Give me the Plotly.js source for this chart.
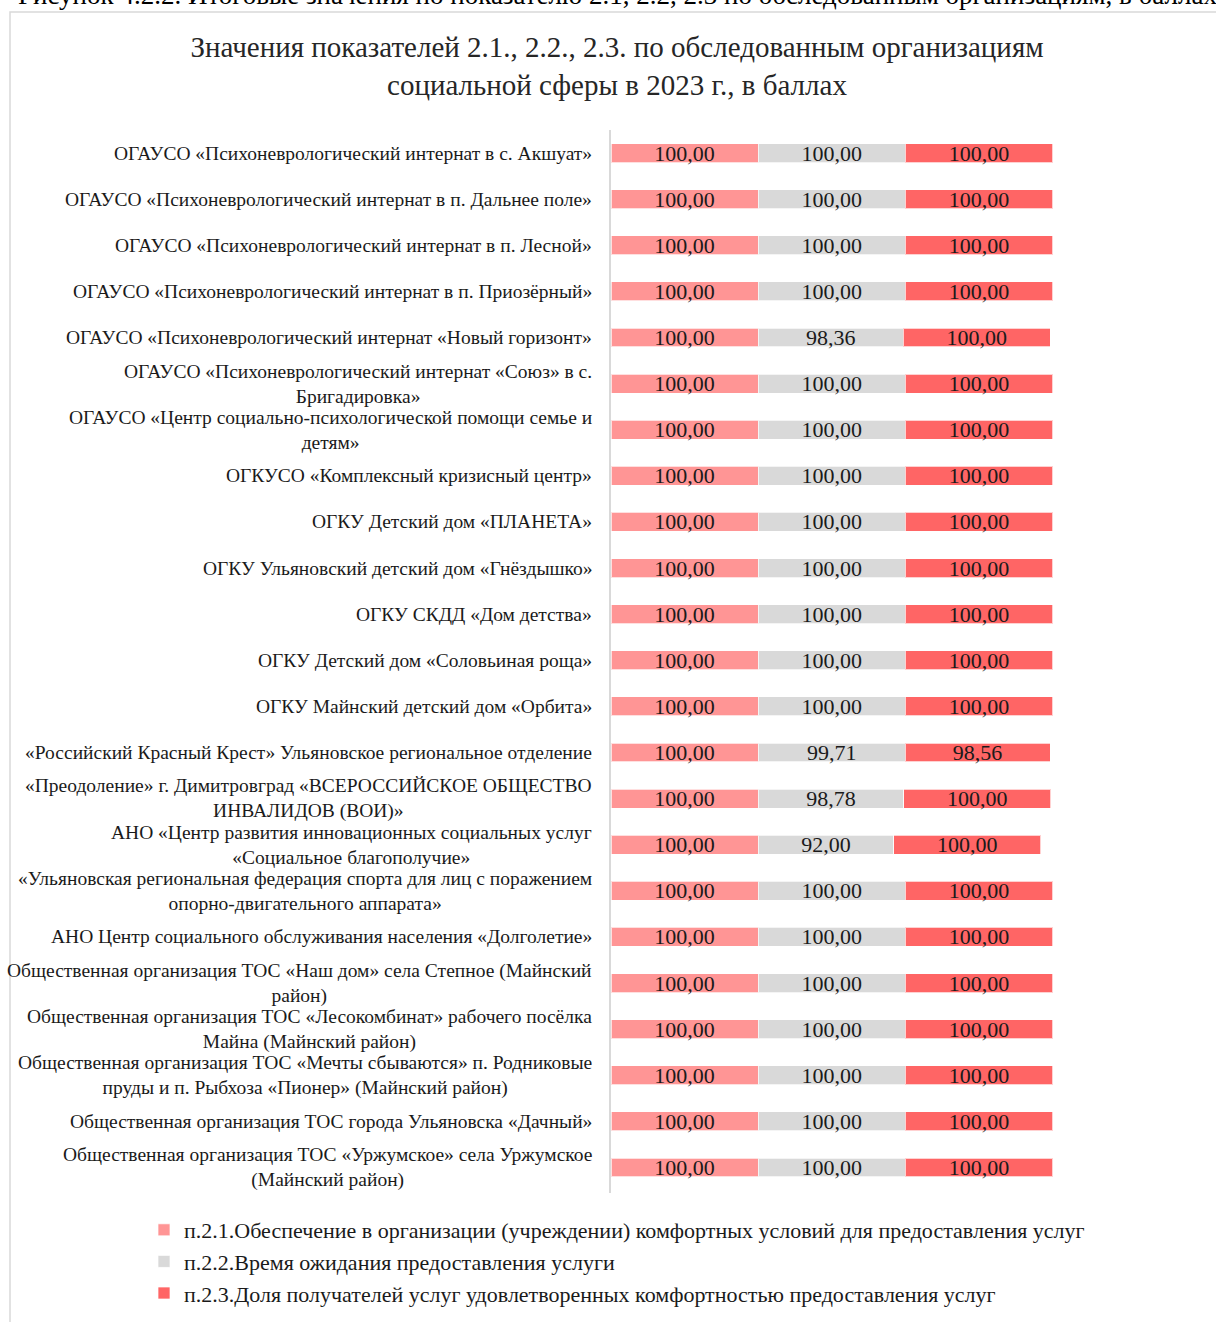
<!DOCTYPE html>
<html>
<head>
<meta charset="utf-8">
<script src="https://cdn.plot.ly/plotly-3.0.1.min.js"></script>
<style>html,body{margin:0;padding:0;background:#fff;}#chart{width:1216px;height:1322px;}</style>
</head>
<body>
<div id="chart"></div>
<script>
const categories = [
  "ОГАУСО «Психоневрологический интернат в с. Акшуат»",
  "ОГАУСО «Психоневрологический интернат в п. Дальнее поле»",
  "ОГАУСО «Психоневрологический интернат в п. Лесной»",
  "ОГАУСО «Психоневрологический интернат в п. Приозёрный»",
  "ОГАУСО «Психоневрологический интернат «Новый горизонт»",
  "ОГАУСО «Психоневрологический интернат «Союз» в с.<br>Бригадировка»",
  "ОГАУСО «Центр социально-психологической помощи семье и<br>детям»",
  "ОГКУСО «Комплексный кризисный центр»",
  "ОГКУ Детский дом «ПЛАНЕТА»",
  "ОГКУ Ульяновский детский дом «Гнёздышко»",
  "ОГКУ СКДД «Дом детства»",
  "ОГКУ Детский дом «Соловьиная роща»",
  "ОГКУ Майнский детский дом «Орбита»",
  "«Российский Красный Крест» Ульяновское региональное отделение",
  "«Преодоление» г. Димитровград «ВСЕРОССИЙСКОЕ ОБЩЕСТВО<br>ИНВАЛИДОВ (ВОИ)»",
  "АНО «Центр развития инновационных социальных услуг<br>«Социальное благополучие»",
  "«Ульяновская региональная федерация спорта для лиц с поражением<br>опорно-двигательного аппарата»",
  "АНО Центр социального обслуживания населения «Долголетие»",
  "Общественная организация ТОС «Наш дом» села Степное (Майнский<br>район)",
  "Общественная организация ТОС «Лесокомбинат» рабочего посёлка<br>Майна (Майнский район)",
  "Общественная организация ТОС «Мечты сбываются» п. Родниковые<br>пруды и п. Рыбхоза «Пионер» (Майнский район)",
  "Общественная организация ТОС города Ульяновска «Дачный»",
  "Общественная организация ТОС «Уржумское» села Уржумское<br>(Майнский район)"
];
const seriesNames = [
  "п.2.1.Обеспечение в организации (учреждении) комфортных условий для предоставления услуг",
  "п.2.2.Время ожидания предоставления услуги",
  "п.2.3.Доля получателей услуг удовлетворенных комфортностью предоставления услуг"
];
const values21 = [100,100,100,100,100,100,100,100,100,100,100,100,100,100,100,100,100,100,100,100,100,100,100];
const values22 = [100,100,100,100,98.36,100,100,100,100,100,100,100,100,99.71,98.78,92.00,100,100,100,100,100,100,100];
const values23 = [100,100,100,100,100,100,100,100,100,100,100,100,100,98.56,100,100,100,100,100,100,100,100,100];
const colors = ["#FF9595", "#D9D9D9", "#FF6565"];
const titleText = "Значения показателей 2.1., 2.2., 2.3. по обследованным организациям<br>социальной сферы в 2023 г., в баллах";
const captionText = "Рисунок 4.2.2. Итоговые значения по показателю 2.1, 2.2, 2.3 по обследованным организациям, в баллах";

const FONT = "Liberation Serif, Times New Roman, serif";
const allValues = [values21, values22, values23];
const traces = allValues.map((vals, i) => ({
  type: "bar",
  orientation: "h",
  name: seriesNames[i],
  legendgroup: "g" + i,
  y: categories,
  x: vals,
  marker: {color: colors[i], line: {color: "rgba(255,255,255,0.7)", width: 1}},
  texttemplate: "%{x:.2f}",
  textposition: "inside",
  insidetextanchor: "middle",
  constraintext: "none",
  textfont: {family: FONT, size: 22, color: "#1a1a1a"},
  hoverinfo: "x+name"
}));

const L = 611, R = 1063, T = 130, B = 1193;
const pw = R - L, ph = B - T;
const px2x = p => (p - L) / pw;
const px2y = p => (B - p) / ph;

const annotations = categories.map(c => ({
  xref: "paper", yref: "y",
  x: px2x(594), y: c,
  xanchor: "right", yanchor: "middle",
  align: "center",
  text: c,
  showarrow: false,
  font: {family: FONT, size: 19.5, color: "#1a1a1a"}
}));
annotations.push({
  xref: "paper", yref: "paper",
  x: px2x(617), y: px2y(-5),
  xanchor: "center", yanchor: "middle",
  text: captionText, showarrow: false,
  font: {family: FONT, size: 27, color: "#000"}
});

const layout = {
  width: 1216, height: 1322,
  margin: {l: L, r: 1216 - R, t: T, b: 1322 - B, autoexpand: false},
  paper_bgcolor: "#fff", plot_bgcolor: "#fff",
  separators: ", ",
  barmode: "stack",
  bargap: 0.59,
  title: {
    text: titleText,
    font: {family: FONT, size: 29, color: "#262626"},
    x: 617 / 1216, xanchor: "center",
    yref: "container", y: 1 - 57 / 1322, yanchor: "top"
  },
  xaxis: {range: [0, 307], visible: false, fixedrange: true},
  yaxis: {
    autorange: "reversed",
    showticklabels: false, ticks: "",
    showline: true, linecolor: "#D9D9D9", linewidth: 2,
    showgrid: false, zeroline: false
  },
  showlegend: true,
  legend: {
    orientation: "v",
    traceorder: "normal",
    x: px2x(144), xanchor: "left",
    y: px2y(1209), yanchor: "top",
    tracegroupgap: 6,
    itemwidth: 30,
    font: {family: FONT, size: 22, color: "#1a1a1a"}
  },
  annotations: annotations,
  shapes: [{
    type: "rect", xref: "paper", yref: "paper",
    x0: px2x(10), x1: px2x(1240), y0: px2y(1340), y1: px2y(12),
    line: {color: "#D9D9D9", width: 1.5}, fillcolor: "rgba(0,0,0,0)", layer: "below"
  }]
};

Plotly.newPlot("chart", traces, layout, {displayModeBar: false, staticPlot: true});
</script>
</body>
</html>
